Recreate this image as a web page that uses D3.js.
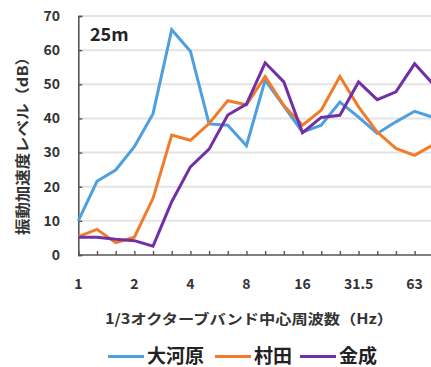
<!DOCTYPE html>
<html>
<head>
<meta charset="utf-8">
<script src="https://cdn.jsdelivr.net/npm/d3@7"></script>
<style>
  html, body { margin: 0; padding: 0; background: #fff; }
  svg { display: block; font-family: "Noto Sans CJK JP", "Noto Sans", sans-serif; }
</style>
</head>
<body>
<div id="chart"></div>
<script>
// 1/3 octave band centre frequencies (Hz)
const bands = ["1", "1.25", "1.6", "2", "2.5", "3.15", "4", "5", "6.3", "8", "10",
               "12.5", "16", "20", "25", "31.5", "40", "50", "63", "80"];
const tickLabels = ["1", "2", "4", "8", "16", "31.5", "63"];
const yTicks = [0, 10, 20, 30, 40, 50, 60, 70];

// Vibration acceleration level (dB) per site
const seriesNames = ["大河原", "村田", "金成"];
const okawara = [10, 21.6, 24.9, 31.7, 41.4, 66, 59.7, 38.4, 38, 32, 51.2, 43.6, 36, 38, 44.8, 40.4, 35.6, 39, 42.1, 40.3];
const murata  = [5.4, 7.5, 3.6, 5.2, 16.6, 35.1, 33.6, 38.5, 45.2, 44, 52.3, 43.8, 38, 42.4, 52.3, 43.4, 36, 31.2, 29.2, 32.3];
const kanari  = [5.2, 5.2, 4.6, 4.2, 2.6, 15.6, 25.8, 31, 41, 44.2, 56.3, 50.7, 35.8, 40.3, 40.9, 50.7, 45.5, 47.8, 56, 50];
const colors = ["#4d9fe0", "#f07c2a", "#7230a6"];

const W = 431, H = 367;
const svg = d3.select("#chart").append("svg").attr("width", W).attr("height", H);

const x = d3.scalePoint().domain(bands).range([78.3, 433.3]);
const y = d3.scaleLinear().domain([0, 70]).range([255, 16]);

// horizontal gridlines
svg.append("g").selectAll("line").data(yTicks.slice(1)).join("line")
  .attr("x1", 78).attr("x2", W)
  .attr("y1", d => y(d)).attr("y2", d => y(d))
  .attr("stroke", "#e3e3e3").attr("stroke-width", 2);

// y axis, ticks pointing into the plot
const yAxis = svg.append("g").attr("transform", "translate(78.3,0)")
  .call(d3.axisRight(y).tickValues(yTicks).tickSize(4).tickFormat(""));
yAxis.select(".domain").attr("stroke", "#555").attr("stroke-width", 1.6);
yAxis.selectAll(".tick line").attr("stroke", "#555").attr("stroke-width", 1.4);

svg.append("g").selectAll("text").data(yTicks).join("text")
  .attr("x", 60).attr("y", d => y(d)).attr("dy", "0.35em")
  .attr("text-anchor", "end").attr("font-size", 14).attr("font-weight", "bold")
  .attr("fill", "#333").text(d => d);

// x axis, ticks pointing into the plot
const xAxis = svg.append("g").attr("transform", "translate(0,255)")
  .call(d3.axisTop(x).tickSize(4).tickFormat(""));
xAxis.select(".domain").attr("stroke", "#555").attr("stroke-width", 1.6)
  .attr("d", `M78.3,0H${W}`);
xAxis.selectAll(".tick line").attr("stroke", "#555").attr("stroke-width", 1.4);

svg.append("g").selectAll("text").data(tickLabels).join("text")
  .attr("x", d => x(d)).attr("y", 284).attr("dy", "0.35em")
  .attr("text-anchor", "middle").attr("font-size", 14).attr("font-weight", "bold")
  .attr("fill", "#333").text(d => d);

// axis titles
svg.append("text").attr("x", 105).attr("y", 319).attr("dy", "0.35em")
  .attr("font-size", 14).attr("font-weight", "bold")
  .attr("textLength", 288).attr("lengthAdjust", "spacingAndGlyphs")
  .attr("fill", "#333").text("1/3オクターブバンド中心周波数（Hz）");

svg.append("text").attr("transform", "translate(23,235) rotate(-90)")
  .attr("dy", "0.35em")
  .attr("font-size", 14.5).attr("font-weight", "bold").attr("fill", "#333")
  .attr("textLength", 186).attr("lengthAdjust", "spacingAndGlyphs")
  .text("振動加速度レベル（dB）");

// distance label
svg.append("text").attr("x", 90).attr("y", 35).attr("dy", "0.35em")
  .attr("font-size", 18).attr("font-weight", "bold").attr("fill", "#222").text("25m");

// series lines
const line = d3.line().x((d, i) => x(bands[i])).y(d => y(d));
[okawara, murata, kanari].forEach((vals, k) => {
  svg.append("path").datum(vals)
    .attr("d", line).attr("fill", "none")
    .attr("stroke", colors[k]).attr("stroke-width", 3)
    .attr("stroke-linejoin", "miter");
});

// legend
const legendX = [108, 215, 300];
seriesNames.forEach((name, k) => {
  const g = svg.append("g").attr("transform", `translate(${legendX[k]},356.5)`);
  g.append("line").attr("x1", 0).attr("x2", 36).attr("y1", 0).attr("y2", 0)
    .attr("stroke", colors[k]).attr("stroke-width", 3);
  g.append("text").attr("x", 39).attr("y", 0).attr("dy", "0.35em")
    .attr("font-size", 19).attr("font-weight", "bold").attr("fill", "#222").text(name);
});
</script>
</body>
</html>
